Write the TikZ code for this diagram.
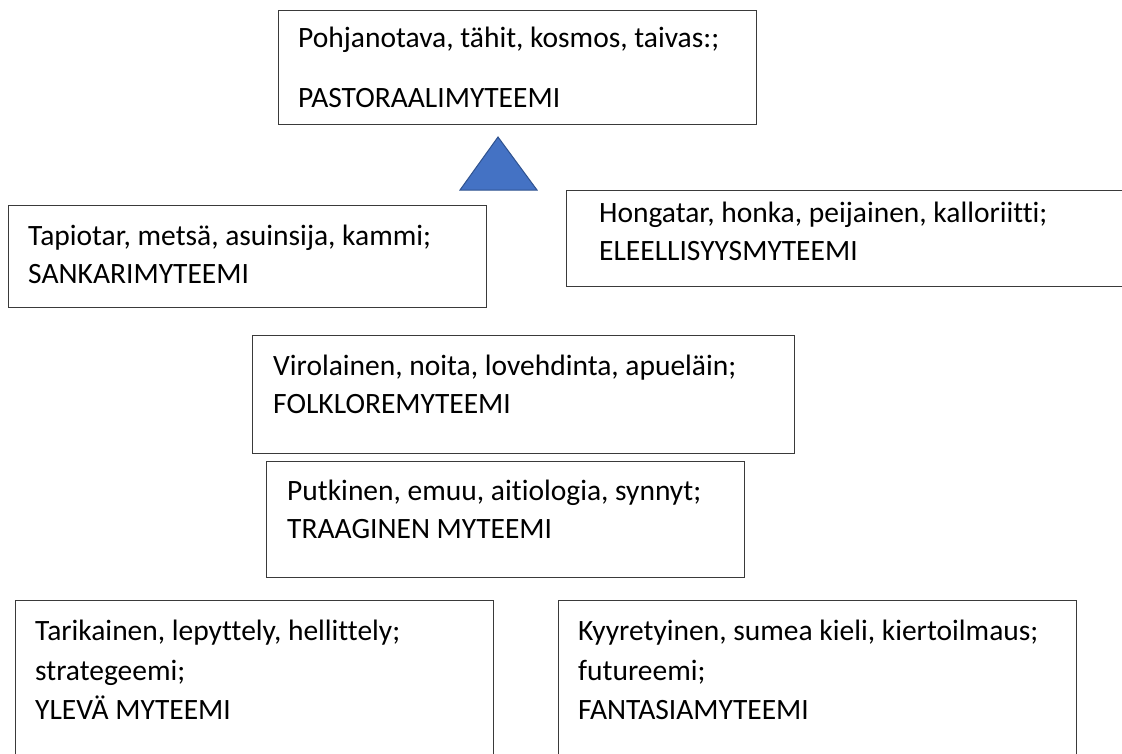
\documentclass[tikz,border=0pt]{standalone}
\usepackage{fontspec}
\setmainfont[Ligatures=NoCommon]{Carlito}
\definecolor{boxline}{HTML}{3A3A3A}
\definecolor{trifill}{HTML}{4472C4}
\definecolor{triline}{HTML}{2F528F}
\begin{document}
\begin{tikzpicture}[x=1pt,y=-1pt,
  mbox/.style={draw=boxline,line width=1.4pt,rectangle,inner sep=0pt,anchor=north west},
  mtext/.style={anchor=base west,inner sep=0pt,font=\fontsize{29.5}{38}\selectfont}]
\useasboundingbox (0,0) rectangle (1122,753);
\fill[white] (0,0) rectangle (1122,753);
\clip (0,0) rectangle (1122,753);

% boxes (the right and bottom ones run past the page edge)
\node[mbox,minimum width=478pt,minimum height=114pt] (pastoral) at (278,10) {};
\node[mbox,minimum width=478pt,minimum height=102pt] (sankari) at (8,205) {};
\node[mbox,minimum width=600pt,minimum height=96pt] (eleellis) at (566,190) {};
\node[mbox,minimum width=542pt,minimum height=118pt] (folklore) at (252,335) {};
\node[mbox,minimum width=478pt,minimum height=116pt] (traaginen) at (266,461) {};
\node[mbox,minimum width=478pt,minimum height=200pt] (ylevae) at (15,600) {};
\node[mbox,minimum width=518pt,minimum height=200pt] (fantasia) at (558,600) {};

% triangle
\coordinate (tapex) at (498,137);
\coordinate (tleft) at (460,190);
\coordinate (tright) at (537,190);
\filldraw[fill=trifill,draw=triline,line width=1pt] (tapex) -- (tleft) -- (tright) -- cycle;

% texts
\node[mtext] (p1) at (298,47) {Pohjanotava, tähit, kosmos, taivas:;};
\node[mtext] (p2) at (298,107) {PASTORAALIMYTEEMI};

\node[mtext] (s1) at (28,245) {Tapiotar, metsä, asuinsija, kammi;};
\node[mtext] (s2) at (28,283) {SANKARIMYTEEMI};

\node[mtext] (e1) at (599,222) {Hongatar, honka, peijainen, kalloriitti;};
\node[mtext] (e2) at (599,260) {ELEELLISYYSMYTEEMI};

\node[mtext] (f1) at (273,375) {Virolainen, noita, lovehdinta, apueläin;};
\node[mtext] (f2) at (273,413) {FOLKLOREMYTEEMI};

\node[mtext] (t1) at (287,500) {Putkinen, emuu, aitiologia, synnyt;};
\node[mtext] (t2) at (287,538) {TRAAGINEN MYTEEMI};

\node[mtext] (y1) at (35,640) {Tarikainen, lepyttely, hellittely;};
\node[mtext] (y2) at (35,680) {strategeemi;};
\node[mtext] (y3) at (35,719) {YLEVÄ MYTEEMI};

\node[mtext] (k1) at (578,640) {Kyyretyinen, sumea kieli, kiertoilmaus;};
\node[mtext] (k2) at (578,680) {futureemi;};
\node[mtext] (k3) at (578,719) {FANTASIAMYTEEMI};
\end{tikzpicture}
\end{document}
